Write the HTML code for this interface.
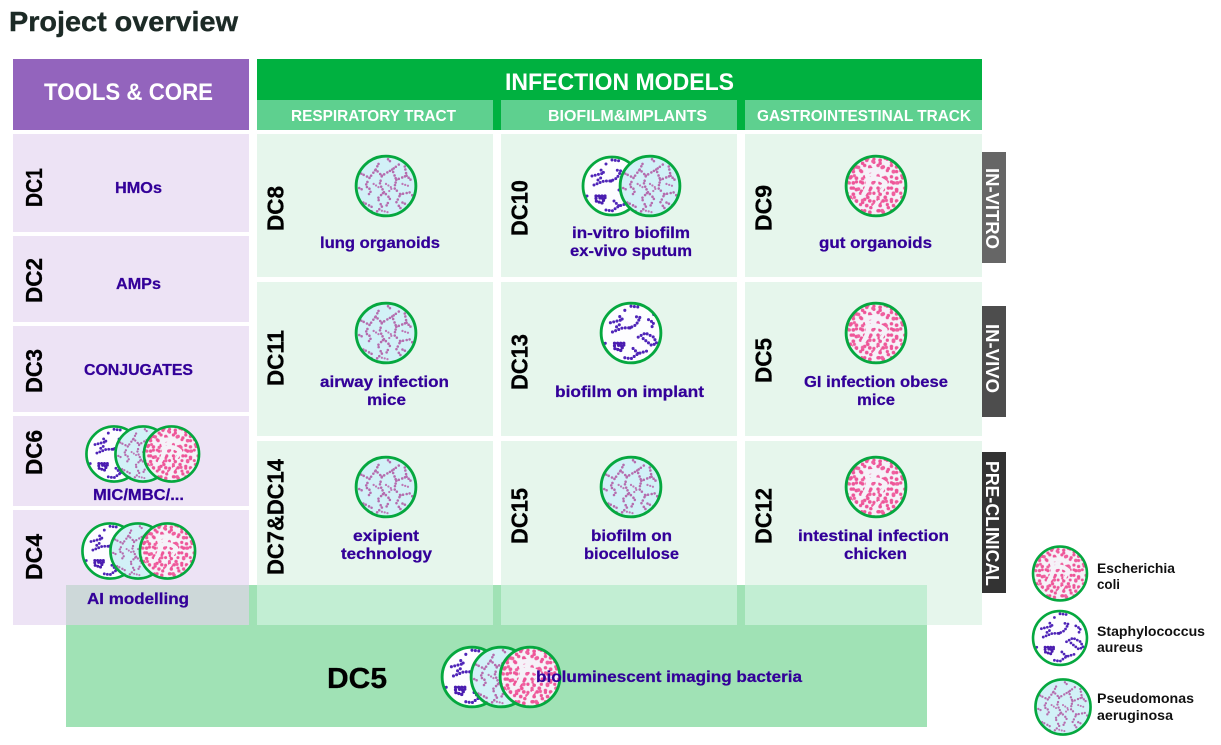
<!DOCTYPE html>
<html><head><meta charset="utf-8"><title>Project overview</title>
<style>
html,body{margin:0;padding:0;background:#fff}
svg{display:block}
text{font-family:"Liberation Sans",sans-serif;font-weight:bold}
.t{fill:#330099;font-size:15.5px;stroke:#330099;stroke-width:.25px}
.d{fill:#000;font-size:23px;stroke:#000;stroke-width:.3px}
.w{fill:#fff}
.l{fill:#111;font-size:13.5px}
.v{fill:#fff;font-size:18.5px}
.n{fill:none;stroke-linecap:round}
</style></head><body>
<svg width="1221" height="745" viewBox="0 0 1221 745" xmlns="http://www.w3.org/2000/svg">
<defs>
<clipPath id="cc"><circle r="29"/></clipPath>
<pattern id="k1" width="13" height="11" patternUnits="userSpaceOnUse">
<g fill="#ee5598"><circle cx="2" cy="2" r="1.7"/><circle cx="7" cy="3.5" r="1.8"/><circle cx="11" cy="7" r="1.6"/><circle cx="4" cy="8" r="1.8"/></g>
</pattern>
<pattern id="k2" width="17" height="19" patternUnits="userSpaceOnUse">
<g fill="#ee5598"><circle cx="3" cy="5" r="1.7"/><circle cx="12" cy="2" r="1.7"/><circle cx="9" cy="11" r="1.8"/><circle cx="15" cy="15" r="1.6"/><circle cx="4" cy="16" r="1.7"/></g>
</pattern>
<pattern id="k3" width="23" height="21" patternUnits="userSpaceOnUse">
<g fill="#f0609f"><circle cx="6" cy="3" r="1.8"/><circle cx="17" cy="7" r="1.8"/><circle cx="10" cy="14" r="1.7"/><circle cx="20" cy="18" r="1.7"/><circle cx="2" cy="11" r="1.6"/></g>
</pattern>
<g id="e">
<circle r="30" fill="#f5f2f8"/>
<g clip-path="url(#cc)">
<circle r="30" fill="url(#k1)"/>
<circle r="30" fill="url(#k2)"/>
<circle r="30" fill="url(#k3)"/>
<path d="M-10-14C-6-6-8 2-12 8M-10-14C-4-16 4-16 6-12M-8-6C-2-8 4-8 9-3" fill="none" stroke="#f5f2f8" stroke-width="4.5" stroke-linecap="round"/>
<path d="M-24 14L-16 22M8 0L5 5M20-24L25-18M-2 20L3 15M20 18L25 14" fill="none" stroke="#f5f2f8" stroke-width="3" stroke-linecap="round"/>
</g>
<circle r="29" fill="none" stroke="#05a83f" stroke-width="2.8"/>
</g>
<g id="s">
<circle r="30" fill="#fdfdff"/>
<g clip-path="url(#cc)">
<path class="n" stroke="#4f25b8" stroke-width="3" stroke-dasharray="0 3.3" d="M0-26L9-25M-20-10L-8-13-13-18M-18-1L-8-5-1-5 5-8 9-15 4-16M17-13L22-10 20-5M7 4L14 0 22 4 25 10 20 12 10 4M-6 24L0 25 7 20 17 17M2 15L7 20M-25 10L-24.5 10M-6-22L-5.5-22M22-18L22.5-18M-14-6L-10-9"/>
<path class="n" stroke="#4a1cb0" stroke-width="3.2" stroke-dasharray="0 3" d="M-16 10L-6 10-10 17-16 15-16 10M-12 12L-8 13M-1-5L-1-4"/>
</g>
<circle r="29" fill="none" stroke="#05a83f" stroke-width="2.8"/>
</g>
<g id="p">
<circle r="30" fill="#d2f1f7"/>
<g clip-path="url(#cc)">
<path class="n" stroke="#b56cae" stroke-width="2.5" stroke-dasharray="0 2.6 0 3.6 0 2.9 0 4.4" d="M-24-12L-16-8-20 0-14 4-18 10M-16-8L-10-16-6-24M-10-16L-4-10-6-2-2 6-8 12-4 20-10 26M-4-10L6-16 14-22M6-16L10-6 8 2 14 8 10 16 16 24M10-6L20-10 26-4M20-10L18-20M14 8L24 6 27 12M-2 6L4 12 0 20M-22 16L-14 20-14 26M16 16L24 20M2-26L6-22M-26 2L-22 4"/>
<path class="n" stroke="#bd78b6" stroke-width="2.2" stroke-dasharray="0 2.8" d="M-12-2L-6 2M0-2L6 2 2 6M16-2L22 0M-4 24L4 26"/>
</g>
<circle r="29" fill="none" stroke="#05a83f" stroke-width="2.8"/>
</g>
</defs>

<text x="9" y="31" font-size="28" fill="#1c2a26" stroke="#1c2a26" stroke-width=".4" textLength="229" lengthAdjust="spacingAndGlyphs">Project overview</text>

<!-- bottom band -->
<rect x="66" y="585" width="861" height="142" fill="#a0e2b5"/>

<!-- headers -->
<rect x="13" y="59" width="236" height="71" fill="#9364bd"/>
<rect x="257" y="59" width="725" height="71" fill="#00b140"/>
<rect x="257" y="100" width="236" height="30" fill="#5ed08f"/>
<rect x="501" y="100" width="236" height="30" fill="#5ed08f"/>
<rect x="745" y="100" width="237" height="30" fill="#5ed08f"/>

<!-- left cells -->
<g fill="#ede3f5">
<rect x="13" y="134" width="236" height="98"/>
<rect x="13" y="236" width="236" height="86"/>
<rect x="13" y="326" width="236" height="86"/>
<rect x="13" y="416" width="236" height="90"/>
<rect x="13" y="510" width="236" height="115"/>
</g>
<!-- grid cells -->
<g fill="#e6f6ec">
<rect x="257" y="134" width="236" height="143"/><rect x="501" y="134" width="236" height="143"/><rect x="745" y="134" width="237" height="143"/>
<rect x="257" y="282" width="236" height="154"/><rect x="501" y="282" width="236" height="154"/><rect x="745" y="282" width="237" height="154"/>
<rect x="257" y="441" width="236" height="184"/><rect x="501" y="441" width="236" height="184"/><rect x="745" y="441" width="237" height="184"/>
</g>
<!-- overlap strips -->
<rect x="66" y="585" width="183" height="40" fill="#cdd8d9"/>
<g fill="#c2eed3">
<rect x="257" y="585" width="236" height="40"/><rect x="501" y="585" width="236" height="40"/><rect x="745" y="585" width="182" height="40"/>
</g>

<!-- side labels -->
<rect x="982" y="152" width="24" height="111" fill="#666"/>
<rect x="982" y="306" width="24" height="111" fill="#4d4d4d"/>
<rect x="982" y="452" width="24" height="141" fill="#333"/>

<!-- header text -->
<text class="w" x="44" y="100" font-size="24" textLength="169" lengthAdjust="spacingAndGlyphs">TOOLS &amp; CORE</text>
<text class="w" x="505" y="90" font-size="24" textLength="229" lengthAdjust="spacingAndGlyphs">INFECTION MODELS</text>
<text class="w" x="291" y="121" font-size="15.5" textLength="165" lengthAdjust="spacingAndGlyphs">RESPIRATORY TRACT</text>
<text class="w" x="548" y="121" font-size="15.5" textLength="159" lengthAdjust="spacingAndGlyphs">BIOFILM&amp;IMPLANTS</text>
<text class="w" x="757" y="121" font-size="15.5" textLength="214" lengthAdjust="spacingAndGlyphs">GASTROINTESTINAL TRACK</text>

<!-- circles -->
<use href="#p" transform="translate(386,186) scale(1.03)"/>
<use href="#s" transform="translate(612,186)"/>
<use href="#p" transform="translate(650,186) scale(1.03)"/>
<use href="#e" transform="translate(876,186) scale(1.03)"/>
<use href="#p" transform="translate(386,333) scale(1.03)"/>
<use href="#s" transform="translate(631,333) scale(1.03)"/>
<use href="#e" transform="translate(876,333) scale(1.03)"/>
<use href="#p" transform="translate(386,487) scale(1.03)"/>
<use href="#p" transform="translate(631,487) scale(1.03)"/>
<use href="#e" transform="translate(876,487) scale(1.03)"/>
<use href="#s" transform="translate(114,454) scale(.95)"/>
<use href="#p" transform="translate(143,454) scale(.95)"/>
<use href="#e" transform="translate(171.5,454) scale(.95)"/>
<use href="#s" transform="translate(110,551) scale(.95)"/>
<use href="#p" transform="translate(138,551) scale(.95)"/>
<use href="#e" transform="translate(167.5,551) scale(.95)"/>
<use href="#s" transform="translate(472,677) scale(1.03)"/>
<use href="#p" transform="translate(501,677) scale(1.03)"/>
<use href="#e" transform="translate(530,677) scale(1.03)"/>
<use href="#e" transform="translate(1060,573.5) scale(.93)"/>
<use href="#s" transform="translate(1060,638) scale(.93)"/>
<use href="#p" transform="translate(1063,707) scale(.95)"/>

<!-- cell text -->
<text class="t" x="115" y="193" textLength="47" lengthAdjust="spacingAndGlyphs">HMOs</text>
<text class="t" x="116" y="289" textLength="45" lengthAdjust="spacingAndGlyphs">AMPs</text>
<text class="t" x="84" y="375" textLength="109" lengthAdjust="spacingAndGlyphs">CONJUGATES</text>
<text class="t" x="93" y="500" textLength="91" lengthAdjust="spacingAndGlyphs">MIC/MBC/...</text>
<text class="t" x="87" y="604" textLength="102" lengthAdjust="spacingAndGlyphs">AI modelling</text>
<text class="t" x="320" y="248" textLength="120" lengthAdjust="spacingAndGlyphs">lung organoids</text>
<text class="t" x="572" y="238" textLength="118" lengthAdjust="spacingAndGlyphs">in-vitro biofilm</text>
<text class="t" x="570" y="256" textLength="122" lengthAdjust="spacingAndGlyphs">ex-vivo sputum</text>
<text class="t" x="819" y="248" textLength="113" lengthAdjust="spacingAndGlyphs">gut organoids</text>
<text class="t" x="320" y="387" textLength="129" lengthAdjust="spacingAndGlyphs">airway infection</text>
<text class="t" x="367" y="405" textLength="39" lengthAdjust="spacingAndGlyphs">mice</text>
<text class="t" x="555" y="397" textLength="149" lengthAdjust="spacingAndGlyphs">biofilm on implant</text>
<text class="t" x="804" y="387" textLength="144" lengthAdjust="spacingAndGlyphs">GI infection obese</text>
<text class="t" x="857" y="405" textLength="38" lengthAdjust="spacingAndGlyphs">mice</text>
<text class="t" x="353" y="541" textLength="66" lengthAdjust="spacingAndGlyphs">exipient</text>
<text class="t" x="341" y="559" textLength="91" lengthAdjust="spacingAndGlyphs">technology</text>
<text class="t" x="591" y="541" textLength="81" lengthAdjust="spacingAndGlyphs">biofilm on</text>
<text class="t" x="584" y="559" textLength="95" lengthAdjust="spacingAndGlyphs">biocellulose</text>
<text class="t" x="798" y="541" textLength="151" lengthAdjust="spacingAndGlyphs">intestinal infection</text>
<text class="t" x="844" y="559" textLength="63" lengthAdjust="spacingAndGlyphs">chicken</text>
<text class="t" x="536" y="682" textLength="266" lengthAdjust="spacingAndGlyphs">bioluminescent imaging bacteria</text>
<text x="327" y="688" font-size="29" fill="#000" stroke="#000" stroke-width=".3" textLength="60" lengthAdjust="spacingAndGlyphs">DC5</text>

<!-- rotated DC labels -->
<text class="d" transform="translate(42,207) rotate(-90)" textLength="39" lengthAdjust="spacingAndGlyphs">DC1</text>
<text class="d" transform="translate(42,303) rotate(-90)" textLength="45" lengthAdjust="spacingAndGlyphs">DC2</text>
<text class="d" transform="translate(42,393) rotate(-90)" textLength="44" lengthAdjust="spacingAndGlyphs">DC3</text>
<text class="d" transform="translate(42,475) rotate(-90)" textLength="45" lengthAdjust="spacingAndGlyphs">DC6</text>
<text class="d" transform="translate(42,580) rotate(-90)" textLength="46" lengthAdjust="spacingAndGlyphs">DC4</text>
<text class="d" transform="translate(283.5,231) rotate(-90)" textLength="45" lengthAdjust="spacingAndGlyphs">DC8</text>
<text class="d" transform="translate(527.5,236) rotate(-90)" textLength="56" lengthAdjust="spacingAndGlyphs">DC10</text>
<text class="d" transform="translate(771.5,231) rotate(-90)" textLength="46" lengthAdjust="spacingAndGlyphs">DC9</text>
<text class="d" transform="translate(283.5,386) rotate(-90)" textLength="56" lengthAdjust="spacingAndGlyphs">DC11</text>
<text class="d" transform="translate(527.5,390) rotate(-90)" textLength="56" lengthAdjust="spacingAndGlyphs">DC13</text>
<text class="d" transform="translate(771.5,383) rotate(-90)" textLength="45" lengthAdjust="spacingAndGlyphs">DC5</text>
<text class="d" transform="translate(283.5,575) rotate(-90)" textLength="116" lengthAdjust="spacingAndGlyphs">DC7&amp;DC14</text>
<text class="d" transform="translate(527.5,544) rotate(-90)" textLength="56" lengthAdjust="spacingAndGlyphs">DC15</text>
<text class="d" transform="translate(771.5,544) rotate(-90)" textLength="56" lengthAdjust="spacingAndGlyphs">DC12</text>

<!-- side text -->
<text class="v" transform="translate(986,168) rotate(90)" textLength="81" lengthAdjust="spacingAndGlyphs">IN-VITRO</text>
<text class="v" transform="translate(986,324) rotate(90)" textLength="69" lengthAdjust="spacingAndGlyphs">IN-VIVO</text>
<text class="v" transform="translate(986,461) rotate(90)" textLength="125" lengthAdjust="spacingAndGlyphs">PRE-CLINICAL</text>

<!-- legend -->
<text class="l" x="1097" y="573" textLength="78" lengthAdjust="spacingAndGlyphs">Escherichia</text>
<text class="l" x="1097" y="589" textLength="23" lengthAdjust="spacingAndGlyphs">coli</text>
<text class="l" x="1097" y="636" textLength="108" lengthAdjust="spacingAndGlyphs">Staphylococcus</text>
<text class="l" x="1097" y="652" textLength="46" lengthAdjust="spacingAndGlyphs">aureus</text>
<text class="l" x="1097" y="703" textLength="97" lengthAdjust="spacingAndGlyphs">Pseudomonas</text>
<text class="l" x="1097" y="720" textLength="76" lengthAdjust="spacingAndGlyphs">aeruginosa</text>
</svg>
</body></html>
